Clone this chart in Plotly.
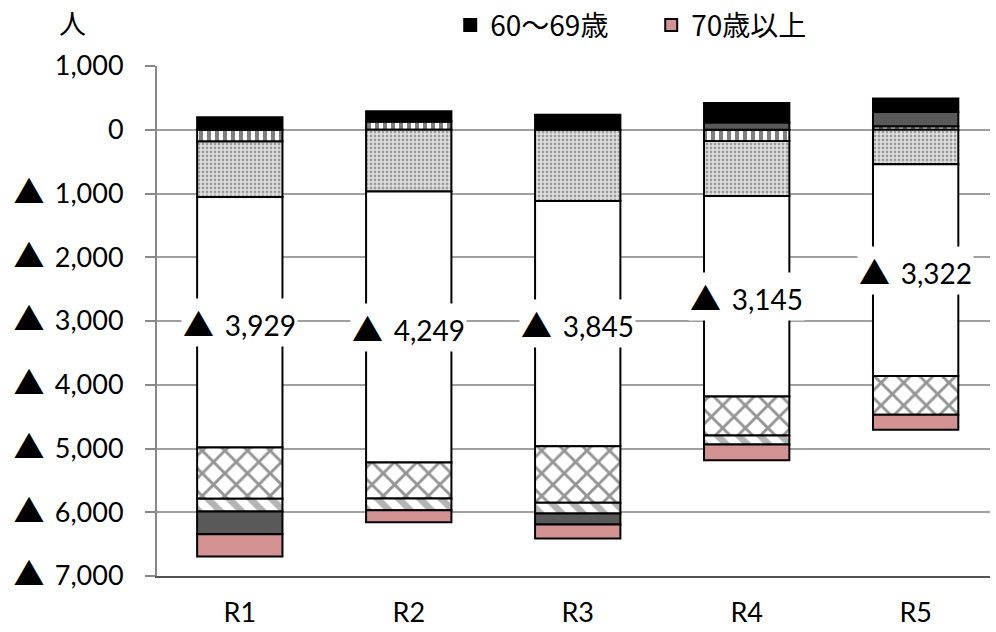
import plotly.graph_objects as go

categories = ["R1", "R2", "R3", "R4", "R5"]
series_names = ["0〜9歳", "10〜19歳", "20〜29歳", "30〜39歳", "40〜49歳", "50〜59歳", "60〜69歳", "70歳以上"]
age_0_9 = [-185, 130, 0, -176, 55]
age_10_19 = [-870, -970, -1118, -863, -542]
age_20_29 = [-3929, -4249, -3845, -3145, -3322]
age_30_39 = [-805, -566, -889, -612, -605]
age_40_49 = [-199, -184, -168, -141, 0]
age_50_59 = [-356, 0, -173, 113, 224]
age_60_69 = [196, 160, 235, 308, 213]
age_70_up = [-350, -188, -220, -247, -236]
y_tickvals = [1000, 0, -1000, -2000, -3000, -4000, -5000, -6000, -7000]
y_ticktext = ["1,000", "0", "▲ 1,000", "▲ 2,000", "▲ 3,000", "▲ 4,000", "▲ 5,000", "▲ 6,000", "▲ 7,000"]

series = [age_0_9, age_10_19, age_20_29, age_30_39, age_40_49, age_50_59, age_60_69, age_70_up]

TRI = "<span style=\"font-family:'Noto Sans CJK JP';font-size:31px\">▲</span>\u2009"


def tri(s):
    return s.replace("▲", TRI)


styles = [
    dict(color="white", pattern=dict(shape="|", fgcolor="black", bgcolor="white", size=8, solidity=0.5)),
    dict(color="white", pattern=dict(shape=".", fgcolor="#555555", bgcolor="#e2e2e2", size=4, solidity=0.4)),
    dict(color="white"),
    dict(color="white", pattern=dict(shape="x", fgcolor="#2a2a2a", bgcolor="white", size=16, solidity=0.33)),
    dict(color="white", pattern=dict(shape="\\", fgcolor="#6a6a6a", bgcolor="white", size=15, solidity=0.45)),
    dict(color="#595959"),
    dict(color="#000000"),
    dict(color="#D39393"),
]

fig = go.Figure()
for i, (name, vals, st) in enumerate(zip(series_names, series, styles)):
    marker = dict(color=st["color"], line=dict(color="black", width=2))
    if "pattern" in st:
        marker["pattern"] = st["pattern"]
    fig.add_trace(go.Bar(
        x=categories, y=vals, name=name, marker=marker,
        showlegend=(i >= 6),
    ))

# data labels for the 20-29 segment (centre of segment)
for j, cat in enumerate(categories):
    base = sum(s[j] for s in series[:2] if s[j] < 0)
    yc = base + age_20_29[j] / 2
    fig.add_annotation(
        x=cat, y=yc, text=tri(f"▲ {abs(age_20_29[j]):,}"), showarrow=False,
        bgcolor="white", font=dict(family="Lato, Noto Sans CJK JP", size=28, color="black"),
        borderpad=1,
    )

fig.add_annotation(
    xref="x domain", yref="y domain", x=-0.102, y=1.085, xanchor="center", yanchor="middle",
    text="人", showarrow=False,
    font=dict(family="Noto Sans CJK JP", size=27, color="black"),
)

fig.update_layout(
    width=996, height=632,
    barmode="relative", bargap=0.495,
    plot_bgcolor="white", paper_bgcolor="white",
    margin=dict(l=157, r=6, t=66, b=56, autoexpand=False),
    font=dict(family="Lato, Noto Sans CJK JP", size=26, color="black"),
    legend=dict(
        orientation="h", x=0.352, y=1.129, xanchor="left", yanchor="top",
        traceorder="normal", font=dict(family="Noto Sans CJK JP", size=28, color="black"),
        itemwidth=30, bgcolor="rgba(0,0,0,0)",
        entrywidth=156, entrywidthmode="pixels",
    ),
)
fig.update_xaxes(
    type="category", range=[-0.49, 4.44], showgrid=False, ticks="",
    showline=True, linecolor="#555555", linewidth=2,
    tickfont=dict(family="Lato", size=27), ticklabelstandoff=12,
)
fig.update_yaxes(
    range=[-7000, 1000], tickvals=y_tickvals, ticktext=[tri(t) for t in y_ticktext],
    showgrid=True, gridcolor="#A0A0A0", gridwidth=2,
    zeroline=True, zerolinecolor="#A0A0A0", zerolinewidth=2,
    showline=True, linecolor="#888888", linewidth=2,
    ticks="outside", ticklen=10, tickwidth=2, tickcolor="#888888",
    tickfont=dict(family="Lato", size=27), ticklabelstandoff=16,
)

fig.write_html(
    "out.html",
    config={"displayModeBar": False},
    post_script="document.body.style.margin='0px';document.body.style.overflow='hidden';",
)
